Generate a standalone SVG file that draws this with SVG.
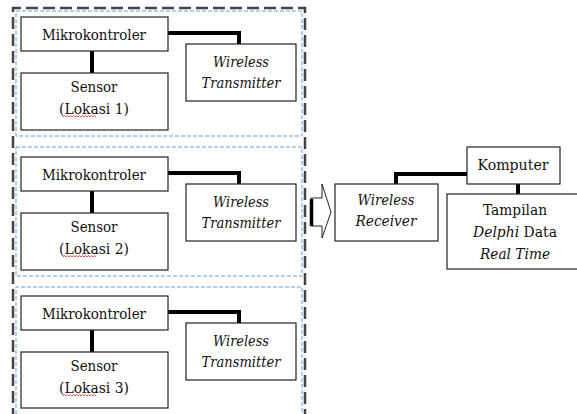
<svg xmlns="http://www.w3.org/2000/svg" width="577" height="414" viewBox="0 0 577 414">
<style>
.box{fill:#fff;stroke:#222;stroke-width:1.2}
.i{font-style:italic}
.con{fill:none;stroke:#000;stroke-width:4}
.outer{fill:none;stroke:#444;stroke-width:2.5;stroke-dasharray:12 5}
.grp{fill:none;stroke:#6a9fd8;stroke-width:1;stroke-dasharray:4 2}
.sq{fill:none;stroke:#e03030;stroke-width:0.8}
</style>
<rect width="577" height="414" fill="#fff"/>
<g id="frames">
<path class="outer" d="M13,420 V8 H305 V420"/>
<rect class="grp" x="16" y="11" width="286" height="125"/>
<rect class="grp" x="16" y="147" width="286" height="129"/>
<path class="grp" d="M16,420 V287 H302 V420"/>
</g>
<g id="connectors">
<path class="con" d="M168,33 H239 V44"/>
<path class="con" d="M92,51 V73"/>
<path class="con" d="M168,173 H239 V184"/>
<path class="con" d="M92,191 V213"/>
<path class="con" d="M168,312 H239 V323"/>
<path class="con" d="M92,330 V352"/>
<path class="con" d="M396,184 V174 H467"/>
<path class="con" d="M518,184 V194"/>
</g>
<g id="arrow">
<path d="M311,198 H322 V184 L331,212 L322,238 V226 H311 Z" fill="#fff" stroke="#222" stroke-width="1"/>
<path d="M311.5,199 V226" stroke="#000" stroke-width="3.5"/>
</g>
<g id="nodes" font-family="'DejaVu Serif', 'Liberation Serif', serif" font-size="15" fill="#111" text-anchor="middle">
<g id="mikro1"><rect class="box" x="21" y="17" width="147" height="34"/><text x="94" y="40" textLength="104" lengthAdjust="spacingAndGlyphs">Mikrokontroler</text></g>
<g id="sensor1"><rect class="box" x="21" y="73" width="147" height="57"/><text x="94" y="92" textLength="47" lengthAdjust="spacingAndGlyphs">Sensor</text><text x="94" y="114" textLength="70" lengthAdjust="spacingAndGlyphs">(Lokasi 1)</text><path class="sq" d="M63,117 l1.5,-1.5 l1.5,1.5 l1.5,-1.5 l1.5,1.5 l1.5,-1.5 l1.5,1.5 l1.5,-1.5 l1.5,1.5 l1.5,-1.5 l1.5,1.5 l1.5,-1.5 l1.5,1.5 l1.5,-1.5 l1.5,1.5 l1.5,-1.5 l1.5,1.5 l1.5,-1.5 l1.5,1.5 l1.5,-1.5 l1.5,1.5 l1.5,-1.5 l1.5,1.5"/></g>
<g id="wt1"><rect class="box" x="186" y="44" width="110" height="57"/><text class="i" x="241" y="67" textLength="56" lengthAdjust="spacingAndGlyphs">Wireless</text><text class="i" x="241" y="88" textLength="79" lengthAdjust="spacingAndGlyphs">Transmitter</text></g>
<g id="mikro2"><rect class="box" x="21" y="157" width="147" height="34"/><text x="94" y="180" textLength="104" lengthAdjust="spacingAndGlyphs">Mikrokontroler</text></g>
<g id="sensor2"><rect class="box" x="21" y="213" width="147" height="57"/><text x="94" y="232" textLength="47" lengthAdjust="spacingAndGlyphs">Sensor</text><text x="94" y="254" textLength="70" lengthAdjust="spacingAndGlyphs">(Lokasi 2)</text><path class="sq" d="M63,257 l1.5,-1.5 l1.5,1.5 l1.5,-1.5 l1.5,1.5 l1.5,-1.5 l1.5,1.5 l1.5,-1.5 l1.5,1.5 l1.5,-1.5 l1.5,1.5 l1.5,-1.5 l1.5,1.5 l1.5,-1.5 l1.5,1.5 l1.5,-1.5 l1.5,1.5 l1.5,-1.5 l1.5,1.5 l1.5,-1.5 l1.5,1.5 l1.5,-1.5 l1.5,1.5"/></g>
<g id="wt2"><rect class="box" x="186" y="184" width="110" height="57"/><text class="i" x="241" y="207" textLength="56" lengthAdjust="spacingAndGlyphs">Wireless</text><text class="i" x="241" y="228" textLength="79" lengthAdjust="spacingAndGlyphs">Transmitter</text></g>
<g id="mikro3"><rect class="box" x="21" y="296" width="147" height="34"/><text x="94" y="319" textLength="104" lengthAdjust="spacingAndGlyphs">Mikrokontroler</text></g>
<g id="sensor3"><rect class="box" x="21" y="352" width="147" height="56"/><text x="94" y="371" textLength="47" lengthAdjust="spacingAndGlyphs">Sensor</text><text x="94" y="393" textLength="70" lengthAdjust="spacingAndGlyphs">(Lokasi 3)</text><path class="sq" d="M63,396 l1.5,-1.5 l1.5,1.5 l1.5,-1.5 l1.5,1.5 l1.5,-1.5 l1.5,1.5 l1.5,-1.5 l1.5,1.5 l1.5,-1.5 l1.5,1.5 l1.5,-1.5 l1.5,1.5 l1.5,-1.5 l1.5,1.5 l1.5,-1.5 l1.5,1.5 l1.5,-1.5 l1.5,1.5 l1.5,-1.5 l1.5,1.5 l1.5,-1.5 l1.5,1.5"/></g>
<g id="wt3"><rect class="box" x="186" y="323" width="110" height="57"/><text class="i" x="241" y="346" textLength="56" lengthAdjust="spacingAndGlyphs">Wireless</text><text class="i" x="241" y="367" textLength="79" lengthAdjust="spacingAndGlyphs">Transmitter</text></g>
<g id="receiver"><rect class="box" x="335" y="184" width="103" height="57"/><text class="i" x="386" y="205" textLength="57" lengthAdjust="spacingAndGlyphs">Wireless</text><text class="i" x="386" y="226" textLength="61" lengthAdjust="spacingAndGlyphs">Receiver</text></g>
<g id="komputer"><rect class="box" x="467" y="147" width="93" height="37"/><text x="513" y="170" textLength="71" lengthAdjust="spacingAndGlyphs">Komputer</text></g>
<g id="tampilan"><rect class="box" x="447" y="194" width="135" height="75"/><text x="515" y="215" textLength="64" lengthAdjust="spacingAndGlyphs">Tampilan</text><text x="515" y="237" textLength="84" lengthAdjust="spacingAndGlyphs"><tspan class="i">Delphi</tspan> Data</text><text class="i" x="515" y="259" textLength="70" lengthAdjust="spacingAndGlyphs">Real Time</text></g>
</g>
</svg>
